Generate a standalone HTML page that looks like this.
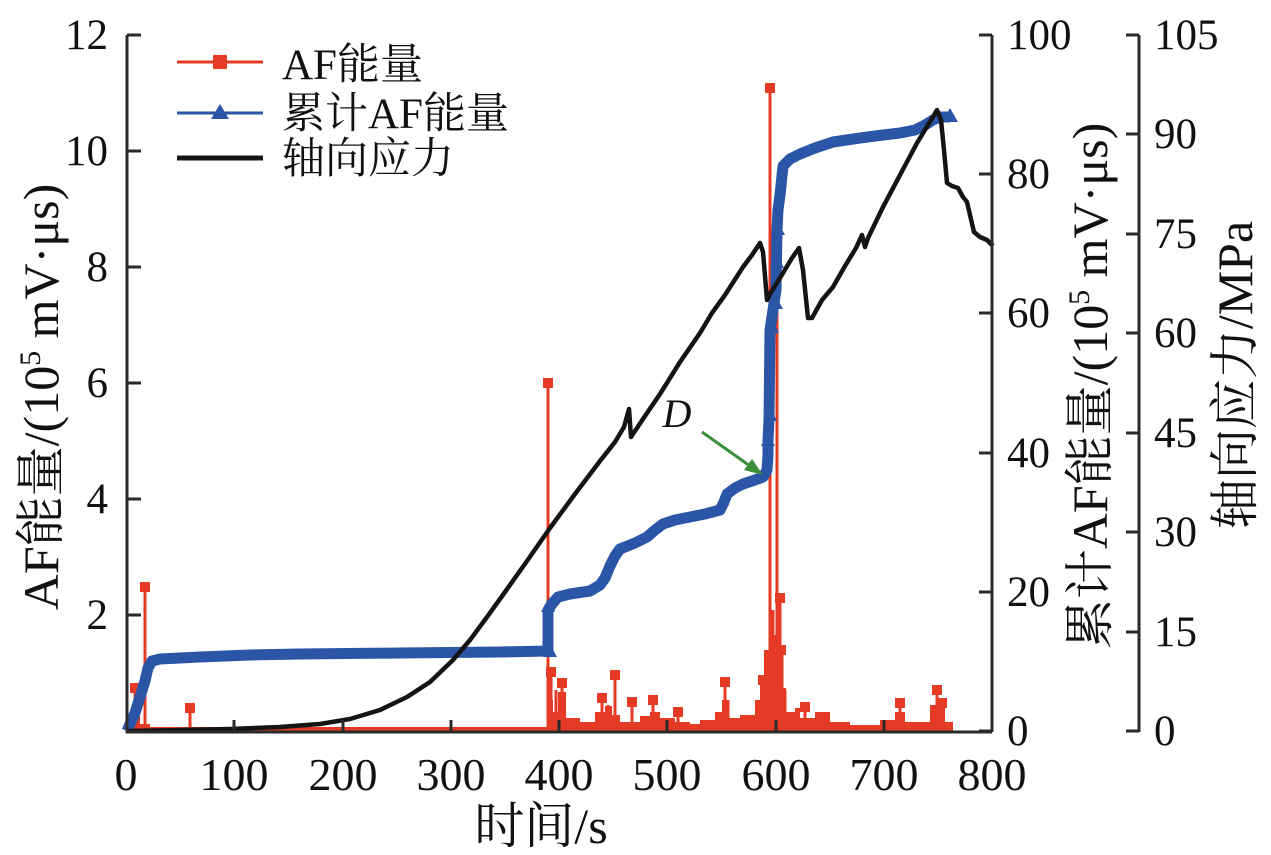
<!DOCTYPE html>
<html><head><meta charset="utf-8"><style>
html,body{margin:0;padding:0;background:#fff;}
svg{display:block;}
text{font-family:"Liberation Serif","Noto Serif CJK SC","Noto Sans CJK SC",serif;fill:#111;}
</style></head><body>
<svg width="1271" height="855" viewBox="0 0 1271 855" xmlns="http://www.w3.org/2000/svg">
<rect width="1271" height="855" fill="#fff"/>

<!-- red AF energy: baseline band + filled region -->
<g fill="#e53a24" stroke="none">
<rect x="127" y="727" width="826" height="5"/>
<path d="M127,731 L127,722 L132,722 L132,716 L140,716 L140,724 L150,724 L150,731 Z"/>
<path d="M548,731 L548,700 L553,700 L553,712 L558,712 L558,692 L566,692 L566,718 L580,718 L580,722 L595,722 L595,712 L605,712 L605,706 L612,706 L612,715 L620,715 L620,722 L640,722 L640,716 L650,716 L650,712 L660,712 L660,718 L675,718 L675,722 L690,722 L690,724 L700,724 L700,720 L715,720 L715,712 L722,712 L722,700 L728,700 L728,718 L740,718 L740,715 L755,715 L755,700 L760,700 L760,675 L764,675 L764,650 L772,650 L772,635 L778,635 L778,655 L783,655 L783,688 L786,688 L786,712 L795,712 L795,708 L800,708 L800,718 L815,718 L815,712 L830,712 L830,722 L850,722 L850,725 L880,725 L880,720 L895,720 L895,712 L905,712 L905,722 L930,722 L930,705 L945,705 L945,722 L953,722 L953,731 Z"/>
</g>
<g stroke="#e53a24" stroke-width="3" fill="none">
<path d="M135,731V688 M145,731V587 M190,731V708 M548,731V383 M551,731V672 M556,731V690 M562,731V683 M602,731V698 M608,731V705 M615,731V675 M632,731V702 M653,731V700 M678,731V712 M725,731V682 M728,731V700 M763,731V680 M766,731V650 M770,731V88 M773,731V610 M777,731V243 M780,731V598 M782,731V650 M785,731V690 M805,731V707 M900,731V703 M937,731V690 M942,731V703"/>
</g>
<g fill="#e53a24">
<rect x="130" y="683" width="10" height="10"/><rect x="140" y="582" width="10" height="10"/><rect x="185" y="703" width="10" height="10"/>
<rect x="543" y="378" width="10" height="10"/><rect x="546" y="667" width="10" height="10"/><rect x="557" y="678" width="10" height="10"/>
<rect x="597" y="693" width="10" height="10"/><rect x="610" y="670" width="10" height="10"/><rect x="627" y="697" width="10" height="10"/>
<rect x="648" y="695" width="10" height="10"/><rect x="673" y="707" width="10" height="10"/><rect x="720" y="677" width="10" height="10"/>
<rect x="758" y="675" width="10" height="10"/><rect x="765" y="83" width="10" height="10"/><rect x="772" y="238" width="10" height="10"/>
<rect x="775" y="593" width="10" height="10"/><rect x="776" y="645" width="10" height="10"/><rect x="800" y="702" width="10" height="10"/>
<rect x="895" y="698" width="10" height="10"/><rect x="932" y="685" width="10" height="10"/><rect x="937" y="698" width="10" height="10"/>
</g>

<!-- blue cumulative -->
<path d="M127,731 L135,713 L140,697 L145,681 L148,668 L152,661 L160,659 L200,657 L250,655 L300,654 L400,653 L500,652 L548,651 L548,610 L552,604 L558,597 L570,594 L590,591 L600,585 L605,578 L610,566 L615,556 L620,549 L635,543 L647,537 L655,530 L663,524 L675,520 L690,517 L705,514 L720,510 L724,502 L727,494 L735,488 L743,484 L755,480 L763,477 L767,470 L768,455 L768,440 L769,420 L770,330 L773,310 L776,290 L777,230 L778,210 L780,195 L783,166 L790,159 L800,154 L815,148 L833,142 L860,138 L883,135 L900,133 L915,130 L925,125 L933,120 L940,117 L950,117" fill="none" stroke="#2b55a6" stroke-width="11" stroke-linejoin="round"/>
<g fill="#2b55a6">
<polygon points="548,599 541,612 555,612"/><polygon points="550,644 543,657 557,657"/>
<polygon points="768,433 761,446 775,446"/><polygon points="770,408 763,421 777,421"/>
<polygon points="772,320 765,333 779,333"/><polygon points="776,296 769,309 783,309"/>
<polygon points="777,255 770,268 784,268"/><polygon points="778,222 771,235 785,235"/>
<polygon points="950,108 942,122 958,122"/>
</g>

<!-- black stress -->
<path d="M127,731 L180,730 L230,729 L280,727 L320,724 L350,719 L380,710 L407,697 L430,682 L453,660 L470,640 L487,617 L505,592 L527,561 L550,528 L575,494 L600,461 L615,442 L624,427 L629,409 L631,437 L645,416 L660,394 L680,362 L700,333 L712,313 L725,295 L743,267 L752,255 L760,243 L763,252 L767,300 L770,294 L783,273 L792,258 L799,248 L803,270 L808,318 L812,318 L822,300 L833,287 L845,266 L856,248 L862,235 L865,247 L868,238 L883,207 L900,175 L917,143 L928,125 L937,110 L941,120 L944,150 L947,183 L952,186 L958,188 L963,197 L967,202 L970,215 L974,232 L980,237 L987,240 L993,246" fill="none" stroke="#141414" stroke-width="4.5" stroke-linejoin="round"/>

<!-- axes -->
<g stroke="#2a2a2a" stroke-width="3" fill="none">
<path d="M127,35 V732 H992 M992,35 V732 M1139,35 V732"/>
<path d="M127,35 H141 M127,151 H141 M127,267 H141 M127,383 H141 M127,499 H141 M127,615 H141"/>
<path d="M234,732 V720 M343,732 V720 M451,732 V720 M559,732 V720 M667,732 V720 M776,732 V720 M884,732 V720"/>
<path d="M979,35 H992 M979,174 H992 M979,313 H992 M979,453 H992 M979,592 H992 M979,731 H992"/>
<path d="M1126,35 H1139 M1126,134 H1139 M1126,234 H1139 M1126,333 H1139 M1126,433 H1139 M1126,532 H1139 M1126,632 H1139 M1126,731 H1139"/>
</g>

<!-- tick labels -->
<g font-size="43" text-anchor="end">
<text x="108" y="49">12</text><text x="108" y="165">10</text><text x="108" y="281">8</text>
<text x="108" y="397">6</text><text x="108" y="513">4</text><text x="108" y="629">2</text>
</g>
<g font-size="43" text-anchor="start">
<text x="1007" y="49">100</text><text x="1007" y="188">80</text><text x="1007" y="327">60</text>
<text x="1007" y="467">40</text><text x="1007" y="606">20</text><text x="1007" y="745">0</text>
<text x="1154" y="49">105</text><text x="1154" y="148">90</text><text x="1154" y="248">75</text>
<text x="1154" y="347">60</text><text x="1154" y="447">45</text><text x="1154" y="546">30</text>
<text x="1154" y="646">15</text><text x="1154" y="745">0</text>
</g>
<g font-size="46" text-anchor="middle">
<text x="126" y="790">0</text><text x="234" y="790">100</text><text x="343" y="790">200</text>
<text x="451" y="790">300</text><text x="559" y="790">400</text><text x="667" y="790">500</text>
<text x="776" y="790">600</text><text x="884" y="790">700</text><text x="992" y="790">800</text>
</g>

<!-- axis titles -->
<text font-size="50" text-anchor="middle" x="541" y="843">时间/s</text>
<text font-size="50" text-anchor="middle" transform="translate(58,397) rotate(-90)">AF能量/(10<tspan dy="-18" font-size="30">5</tspan><tspan dy="18"> mV·μs)</tspan></text>
<text font-size="50" text-anchor="middle" transform="translate(1107,386) rotate(-90)">累计AF能量/(10<tspan dy="-18" font-size="30">5</tspan><tspan dy="18"> mV·μs)</tspan></text>
<text font-size="50" text-anchor="middle" transform="translate(1252,375) rotate(-90)">轴向应力/MPa</text>

<!-- legend -->
<line x1="177" y1="62" x2="263" y2="62" stroke="#e53a24" stroke-width="3"/>
<rect x="213" y="55" width="14" height="14" fill="#e53a24"/>
<line x1="177" y1="113" x2="263" y2="113" stroke="#2b55a6" stroke-width="3"/>
<polygon points="220,104 211,119 229,119" fill="#2b55a6"/>
<line x1="177" y1="158" x2="263" y2="158" stroke="#141414" stroke-width="5"/>
<g font-size="43">
<text x="282" y="79">AF能量</text>
<text x="282" y="128">累计AF能量</text>
<text x="282" y="173">轴向应力</text>
</g>

<!-- annotation D -->
<text x="677" y="427" font-size="40" font-style="italic" text-anchor="middle">D</text>
<line x1="702" y1="432" x2="750" y2="466" stroke="#3b8f3b" stroke-width="3"/>
<polygon points="763,475 744,470 752,459" fill="#3b8f3b"/>
</svg>
</body></html>
